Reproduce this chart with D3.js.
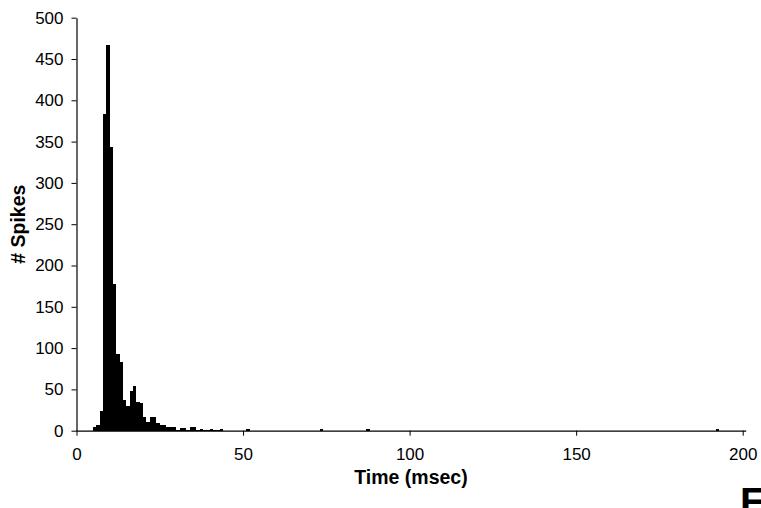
<!DOCTYPE html>
<html>
<head>
<meta charset="utf-8">
<script src="https://cdn.jsdelivr.net/npm/d3@7"></script>
<style>
  html, body { margin: 0; padding: 0; background: #fff; }
  svg { display: block; }
  text { font-family: "Liberation Sans", Arial, sans-serif; fill: #000; }
</style>
</head>
<body>
<svg id="chart" width="761" height="508"></svg>
<script>
// Post-stimulus spike histogram, 1 ms bins (bin start time in ms)
const binStart = [5, 6, 7, 8, 9, 10, 11, 12, 13, 14, 15, 16, 17, 18, 19, 20,
  21, 22, 23, 24, 25, 26, 27, 28, 29, 30, 31, 32, 33, 34, 35, 36, 37, 38, 39,
  40, 41, 42, 43, 51, 73, 87, 192];
const spikeCounts = [5, 7, 24, 383, 467, 344, 177, 93, 83, 37, 30, 48, 54, 35, 33, 17,
  11, 17, 17, 9, 7, 7, 4, 4, 5, 1, 3, 3, 1, 4, 4, 1, 2, 1, 1,
  2, 1, 1, 2, 2, 2, 2, 2];
const binWidth = 1;
const xTicks = [0, 50, 100, 150, 200];
const yTicks = [0, 50, 100, 150, 200, 250, 300, 350, 400, 450, 500];
const xTitle = "Time (msec)";
const yTitle = "# Spikes";
const panelLetter = "E";

const svg = d3.select("#chart");
const plotLeft = 76.5, plotRight = 742.7, plotTop = 17.7, plotBottom = 430.7;

const x = d3.scaleLinear().domain([0, 200]).range([plotLeft, plotRight]);
const y = d3.scaleLinear().domain([0, 500]).range([plotBottom, plotTop]);

const bins = binStart.map((t, i) => ({ t, n: spikeCounts[i] }));

svg.append("g")
  .selectAll("rect")
  .data(bins)
  .join("rect")
  .attr("x", d => x(d.t))
  .attr("width", d => x(d.t + binWidth) - x(d.t))
  .attr("y", d => y(d.n))
  .attr("height", d => y(0) - y(d.n))
  .attr("fill", "#000")
  .attr("shape-rendering", "crispEdges");

const xAxis = svg.append("g")
  .attr("transform", `translate(0,${plotBottom})`)
  .call(d3.axisBottom(x).tickValues(xTicks).tickSize(5).tickPadding(12).tickSizeOuter(0));
const yAxis = svg.append("g")
  .attr("transform", `translate(${plotLeft},0)`)
  .call(d3.axisLeft(y).tickValues(yTicks).tickSize(5).tickPadding(8).tickSizeOuter(0));

// the category axis line runs a little past its last tick
xAxis.select(".domain").attr("d", `M${plotLeft},0.5H${plotRight + 3.5}`);

[xAxis, yAxis].forEach(g => {
  g.select(".domain").attr("stroke", "#000").attr("stroke-width", 1.2);
  g.selectAll(".tick line").attr("stroke", "#000").attr("stroke-width", 1);
  g.selectAll(".tick text")
    .attr("font-family", "'Liberation Sans', Arial, sans-serif")
    .attr("font-size", 17)
    .attr("fill", "#000");
});

svg.append("text")
  .attr("x", 411)
  .attr("y", 484)
  .attr("text-anchor", "middle")
  .attr("font-size", 19.5)
  .attr("font-weight", "bold")
  .text(xTitle);

svg.append("text")
  .attr("transform", `translate(25,${(plotTop + plotBottom) / 2}) rotate(-90)`)
  .attr("text-anchor", "middle")
  .attr("font-size", 19.5)
  .attr("font-weight", "bold")
  .text(yTitle);

svg.append("text")
  .attr("x", 740)
  .attr("y", 516)
  .attr("font-family", "'Liberation Serif', 'Times New Roman', serif")
  .attr("font-size", 40)
  .attr("font-weight", "bold")
  .text(panelLetter);
</script>
</body>
</html>
